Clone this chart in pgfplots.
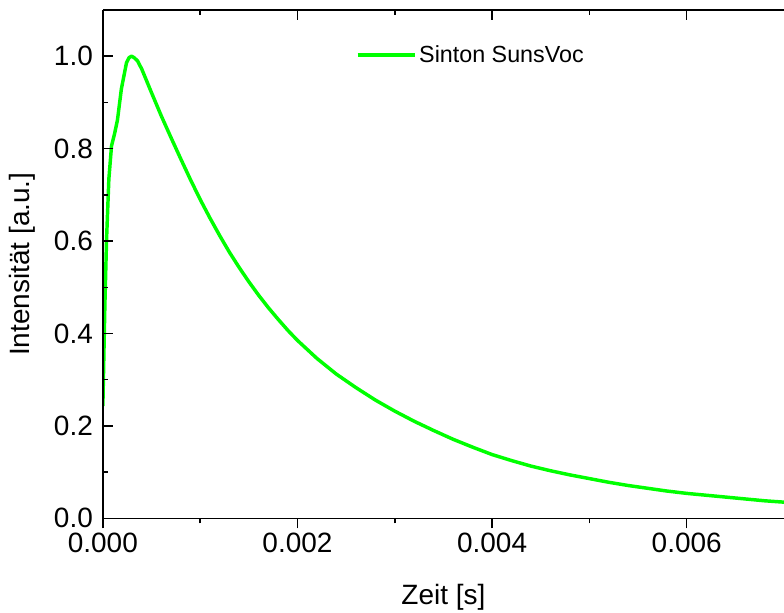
\documentclass[border=0pt]{standalone}
\usepackage{fontspec}
\setmainfont{Liberation Sans}
\usepackage{pgfplots}
\pgfplotsset{compat=1.18}
\definecolor{sgreen}{RGB}{0,255,0}

\pgfplotstableread{
x y
0.0 0.243
0.0000205 0.46
0.000038 0.604
0.0000615 0.734
0.000089 0.806
0.00012 0.832
0.00015 0.862
0.00019 0.929
0.000243 0.986
0.00027 0.997
0.000294 1.0
0.00032 0.997
0.000356 0.99
0.0004 0.972
0.0005 0.921
0.0006 0.871
0.0007 0.824
0.0008 0.778
0.0009 0.733
0.0010 0.690
0.0011 0.650
0.0012 0.612
0.0013 0.576
0.0014 0.543
0.0015 0.512
0.0016 0.483
0.0017 0.456
0.0018 0.431
0.0019 0.407
0.0020 0.385
0.0022 0.346
0.0024 0.312
0.0026 0.283
0.0028 0.256
0.0030 0.232
0.0032 0.210
0.0034 0.190
0.0036 0.171
0.0038 0.154
0.0040 0.138
0.0042 0.125
0.0044 0.113
0.0046 0.103
0.0048 0.094
0.0050 0.086
0.0052 0.078
0.0054 0.071
0.0056 0.065
0.0058 0.059
0.0060 0.054
0.0062 0.050
0.0064 0.046
0.0066 0.042
0.0068 0.038
0.0070 0.035
}\sinton

\begin{document}
\begin{tikzpicture}
\pgfplotsset{
  common/.style={
    scale only axis, width=511.5pt, height=381.75pt,
    xmin=0, xmax=0.007, ymin=0, ymax=1.1,
    axis line style={line width=1.1pt},
    every tick/.style={line width=1.1pt, black},
    major tick length=7.5pt, minor tick length=3.75pt,
    ticklabel style={font=\fontsize{21}{25}\selectfont},
    /pgf/number format/assume math mode=true,
    label style={font=\fontsize{21}{25}\selectfont},
    scaled x ticks=false, scaled y ticks=false,
  }
}
\begin{axis}[common, name=main,
  axis lines*=left,
  tick align=outside,
  xtick={0,0.002,0.004,0.006},
  minor xtick={0.001,0.003,0.005},
  xticklabel style={/pgf/number format/.cd, fixed, fixed zerofill, precision=3},
  ytick=\empty,
  xlabel={Zeit [s]},
  xlabel style={at={([yshift=-59.25pt]axis description cs:0.5,0)}, anchor=center},
  legend style={draw=none, fill=none, inner sep=0pt,
    at={(axis description cs:0.371,0.9116)}, anchor=west,
    font=\fontsize{17.5}{20}\selectfont},
  legend image code/.code={\draw[#1] (0pt,0pt) -- (43pt,0pt);},
]
\addplot[sgreen, line width=2.6pt, line join=round] table[x=x,y=y] {\sinton};
\addlegendentry{Sinton SunsVoc}
\end{axis}
\begin{axis}[common,
  axis x line*=top, axis y line*=left,
  tick align=inside,
  xtick={0,0.002,0.004,0.006},
  minor xtick={0.001,0.003,0.005},
  xticklabels={},
  ytick={0,0.2,0.4,0.6,0.8,1.0},
  minor ytick={0.1,0.3,0.5,0.7,0.9},
  yticklabel style={/pgf/number format/.cd, fixed, fixed zerofill, precision=1, /tikz/xshift=-4pt},
  ylabel={Intensität [a.u.]},
  ylabel style={at={([xshift=-60.75pt]axis description cs:0,0.5)}, anchor=center},
]
\end{axis}
\pgfresetboundingbox
\path[use as bounding box] ([xshift=-77.25pt,yshift=-70.5pt]main.south west) rectangle ([yshift=7.5pt]main.north east);
\end{tikzpicture}
\end{document}
